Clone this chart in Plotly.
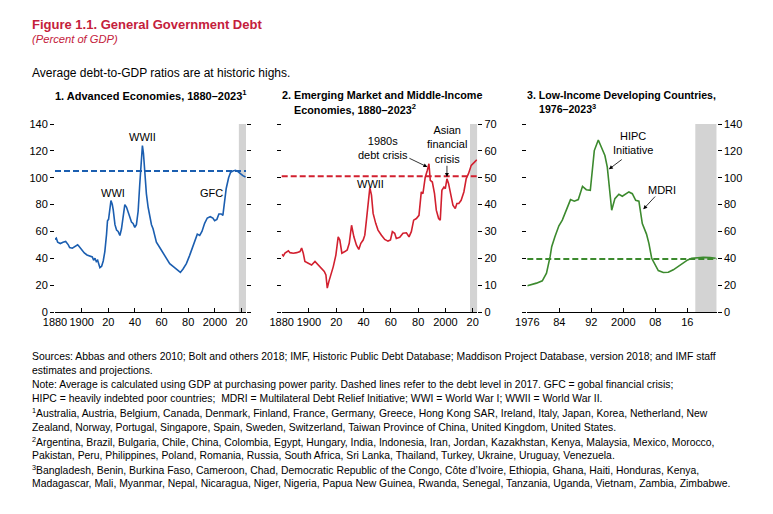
import plotly.graph_objects as go

FONT = "Liberation Sans, Arial, sans-serif"
W, H = 773, 514
OFF = 8  # the page body adds an 8px margin around the figure

# ---- data ----
ae_years = [1880, 1881, 1882, 1884, 1886, 1888, 1890, 1891, 1893, 1895, 1897, 1898,
            1900, 1902, 1904, 1906, 1908, 1909, 1910, 1911, 1912, 1913.7, 1915, 1916.2,
            1917.4, 1918.7, 1919.4, 1920.2, 1921.2, 1922, 1923, 1923.7, 1925, 1926.2,
            1927.4, 1928.7, 1929.9, 1931.2, 1932.4, 1933.7, 1934.9, 1936.2, 1937.4,
            1938.6, 1939.9, 1941.1, 1942.4, 1943.6, 1945.1, 1945.6, 1946.4, 1947.4,
            1948.6, 1949.9, 1951.1, 1952.4, 1953.6, 1954.9, 1956.1, 1958.6, 1961.1,
            1963.6, 1966.1, 1968.6, 1971.1, 1972.8, 1974.1, 1976.1, 1978.6, 1981,
            1983.6, 1985.6, 1986.8, 1988.6, 1990.3, 1992.3, 1994.3, 1996.5, 1998.5,
            1999.8, 2001.5, 2003, 2004.8, 2006, 2007.3, 2008.5, 2010.3, 2011.8, 2013.5,
            2015.5, 2017.3, 2019, 2021, 2023]
ae_debt = [54, 55, 52, 51, 52, 52.5, 50, 48, 47.5, 49, 50, 49,
           46, 44, 42.5, 42, 41, 38.5, 40, 37.5, 38.5, 33, 34, 38,
           45, 58, 68, 69, 80, 83, 80, 76, 65, 61,
           60, 57, 62, 73, 80, 78, 74, 70, 67,
           66, 63, 65, 75, 95, 118, 124, 118, 100,
           88, 78, 70, 65, 62, 56, 52, 48, 44,
           40, 36, 34, 32, 31, 29.5, 32, 36, 42,
           49, 55, 58, 57, 60, 66, 70, 71, 70,
           68, 69, 73, 73, 72, 82, 92, 100, 104, 105,
           105.5, 104.5, 103, 101.5, 100.5]

em_years = [1880, 1881.2, 1882.4, 1883.7, 1884.9, 1886.1, 1888.5, 1891, 1893.4, 1894.6,
            1895.8, 1897, 1899.5, 1901.9, 1904.4, 1906.8, 1909.2, 1911.2, 1912.4, 1913.4,
            1914.6, 1915.8, 1917.8, 1919.7, 1921.4, 1922.6, 1924.1, 1926.3, 1928, 1929.5,
            1931.2, 1932.9, 1934.8, 1936.5, 1938, 1939.7, 1940.9, 1942.1, 1943.3, 1944.6,
            1945.8, 1947, 1948.9, 1950.6, 1953.1, 1955.5, 1957.9, 1959.7, 1961.1, 1962.8,
            1964, 1966.5, 1968.9, 1971.4, 1973.3, 1975, 1976.7, 1978.7, 1980.6, 1982.3,
            1983.5, 1985.2, 1986.7, 1987.9, 1988.9, 1990.4, 1992, 1993.3, 1995, 1996.2,
            1997.4, 1998.9, 1999.9, 2001.1, 2002.3, 2003.8, 2005.5, 2007.2, 2008.4, 2009.8,
            2011.5, 2013.5, 2015.2, 2016.9, 2018.9, 2021.3, 2023]
em_debt = [21.5, 20.9, 21.9, 22.5, 22.8, 22.1, 21.9, 22.1, 22.5, 23.8,
           21.9, 18.8, 18.1, 17.5, 18.8, 17.5, 16.3, 15.1, 13.8, 8.9,
           11.4, 13.2, 16.9, 21.2, 28, 26.8, 21.9, 22.5, 23.1, 25.6,
           32.3, 28, 24.9, 23.3, 25.6, 26.8, 28.6, 34.2, 41.6, 46.3,
           43.5, 36.7, 33, 30.5, 28.6, 27, 26.4, 26.8, 29.9, 29.3,
           27.4, 27.8, 29.3, 29.5, 28, 29.9, 34.2, 34.8, 36, 44.7,
           44.1, 50.2, 52.7, 55.2, 49, 48.4, 44.1, 37.9, 34.8, 34.2,
           45.3, 46.5, 45.9, 49.6, 47.8, 43.5, 39.8, 38.5, 40.4, 40.4,
           41.6, 44.7, 49.6, 51.5, 54.6, 55.8, 56.7]

lidc_years = [1976, 1977.1, 1978.3, 1979.75, 1980.8, 1981.7, 1982.1, 1982.9, 1983.9, 1984.75,
              1985.8, 1986.8, 1987.75, 1988.75, 1989.8, 1990.75, 1991.75, 1992.75, 1993.75,
              1994.6, 1995.4, 1996, 1996.5, 1997.1, 1997.9, 1998.9, 1999.75, 2000.6, 2001.4,
              2002.25, 2003.1, 2003.9, 2004.75, 2005.8, 2006.4, 2007.1, 2007.9, 2008.75, 2010,
              2011.25, 2012.5, 2013.75, 2015, 2016.1, 2017.1, 2018.3, 2020, 2021.7, 2023.1]
lidc_debt = [19.5, 20.2, 21.5, 23.2, 28.9, 41.2, 48.6, 56, 64.2, 68.4,
             75.8, 83.7, 82.5, 83.7, 93.6, 91.1, 90.6, 120.2, 128.1,
             122.7, 116.5, 107.9, 93.1, 75.8, 84.4, 87.7, 86.2, 87.7, 89.4,
             88.1, 83.2, 82.5, 65.9, 58, 51.1, 40, 35.1, 30.9, 29.4,
             29.6, 31.4, 33.8, 36.8, 38.8, 40, 40.5, 40.7, 40.5, 40]

# debt level in 2017 (dashed lines)
ae_2017, em_2017, lidc_2017 = 105, 50.5, 39.5
proj_start, proj_end = 2018, 2023

ae_ticks = [1880, 1900, 1920, 1940, 1960, 1980, 2000, 2020]
ae_ticktext = ["1880", "1900", "20", "40", "60", "80", "2000", "20"]
lidc_ticks = [1976, 1984, 1992, 2000, 2008, 2016]
lidc_ticktext = ["1976", "84", "92", "2000", "08", "16"]

footnotes = [
    "Sources: Abbas and others 2010; Bolt and others 2018; IMF, Historic Public Debt Database; Maddison Project Database, version 2018; and IMF staff",
    "estimates and projections.",
    "Note: Average is calculated using GDP at purchasing power parity. Dashed lines refer to the debt level in 2017. GFC = gobal financial crisis;",
    "HIPC = heavily indebted poor countries;  MDRI = Multilateral Debt Relief Initiative; WWI = World War I; WWII = World War II.",
    "<sup>1</sup>Australia, Austria, Belgium, Canada, Denmark, Finland, France, Germany, Greece, Hong Kong SAR, Ireland, Italy, Japan, Korea, Netherland, New",
    "Zealand, Norway, Portugal, Singapore, Spain, Sweden, Switzerland, Taiwan Province of China, United Kingdom, United States.",
    "<sup>2</sup>Argentina, Brazil, Bulgaria, Chile, China, Colombia, Egypt, Hungary, India, Indonesia, Iran, Jordan, Kazakhstan, Kenya, Malaysia, Mexico, Morocco,",
    "Pakistan, Peru, Philippines, Poland, Romania, Russia, South Africa, Sri Lanka, Thailand, Turkey, Ukraine, Uruguay, Venezuela.",
    "<sup>3</sup>Bangladesh, Benin, Burkina Faso, Cameroon, Chad, Democratic Republic of the Congo, Côte d’Ivoire, Ethiopia, Ghana, Haiti, Honduras, Kenya,",
    "Madagascar, Mali, Myanmar, Nepal, Nicaragua, Niger, Nigeria, Papua New Guinea, Rwanda, Senegal, Tanzania, Uganda, Vietnam, Zambia, Zimbabwe.",
]

BLUE, RED, GREEN = "#1b5eb0", "#d2202f", "#3c8a2e"
TITLE_RED = "#c4203b"
GREY = "#d3d3d3"


# screen pixel -> paper fraction
def px_x(p):
    return (p - OFF) / W


def px_y(p):
    return 1 - (p - OFF) / H


top, bottom = 124, 312
ydom = [px_y(bottom), px_y(top)]
xdoms = [[px_x(55), px_x(246)], [px_x(281.7), px_x(477.3)], [px_x(527.3), px_x(716.7)]]

fig = go.Figure()

fig.add_trace(go.Scatter(x=ae_years, y=ae_debt, mode="lines",
                         line=dict(color=BLUE, width=1.6), xaxis="x", yaxis="y"))
fig.add_trace(go.Scatter(x=em_years, y=em_debt, mode="lines",
                         line=dict(color=RED, width=1.6), xaxis="x2", yaxis="y2"))
fig.add_trace(go.Scatter(x=lidc_years, y=lidc_debt, mode="lines",
                         line=dict(color=GREEN, width=1.6), xaxis="x3", yaxis="y3"))

# projection shading + 2017 dashed levels
shapes = []
for xr, yr, ymax, lvl, col in [("x", "y", 140, ae_2017, BLUE),
                               ("x2", "y2", 70, em_2017, RED),
                               ("x3", "y3", 140, lidc_2017, GREEN)]:
    shapes.append(dict(type="rect", xref=xr, yref=yr, x0=proj_start, x1=proj_end + 0.35,
                       y0=0, y1=ymax, fillcolor=GREY, line_width=0, layer="below"))
    shapes.append(dict(type="line", xref=xr + " domain", yref=yr, x0=0, x1=1, y0=lvl, y1=lvl,
                       line=dict(color=col, width=2, dash="6px,3px")))

tickfont = dict(family=FONT, size=11, color="black")
xcommon = dict(showgrid=False, zeroline=False, showline=True, linecolor="black", linewidth=1,
               ticks="inside", ticklen=4, tickcolor="black", tickfont=tickfont,
               tickangle=0, automargin=False)
ycommon = dict(showgrid=False, zeroline=False, showline=False, ticks="outside", ticklen=4,
               tickcolor="black", tickfont=tickfont, domain=ydom, automargin=False)

fig.update_layout(
    width=W, height=H, margin=dict(l=0, r=0, t=0, b=0, autoexpand=False),
    paper_bgcolor="white", plot_bgcolor="white", showlegend=False,
    font=dict(family=FONT, size=11, color="black"),
    shapes=shapes,
    xaxis=dict(xcommon, domain=xdoms[0], range=[1880, 2023.35], tickvals=ae_ticks,
               ticktext=ae_ticktext, anchor="y"),
    xaxis2=dict(xcommon, domain=xdoms[1], range=[1880, 2023.35], tickvals=ae_ticks,
                ticktext=ae_ticktext, anchor="y2"),
    xaxis3=dict(xcommon, domain=xdoms[2], range=[1976, 2023.35], tickvals=lidc_ticks,
                ticktext=lidc_ticktext, anchor="y3"),
    yaxis=dict(ycommon, range=[0, 140], dtick=20, anchor="x", side="left"),
    yaxis2=dict(ycommon, range=[0, 70], dtick=10, anchor="x2", side="right"),
    yaxis3=dict(ycommon, range=[0, 140], dtick=20, anchor="x3", side="right"),
    # mirrored tick marks on the opposite side
    yaxis4=dict(ycommon, range=[0, 140], dtick=20, anchor="x", side="right",
                overlaying="y", showticklabels=False),
    yaxis5=dict(ycommon, range=[0, 70], dtick=10, anchor="x2", side="left",
                overlaying="y2", showticklabels=False),
    yaxis6=dict(ycommon, range=[0, 140], dtick=20, anchor="x3", side="left",
                overlaying="y3", showticklabels=False),
)
# dummy traces so the mirror axes get drawn
for ya, xa in [("y4", "x"), ("y5", "x2"), ("y6", "x3")]:
    fig.add_trace(go.Scatter(x=[None], y=[None], xaxis=xa, yaxis=ya, hoverinfo="skip"))

ann = []


def text(x, y, s, size=11, xref="paper", yref="paper", **kw):
    d = dict(x=x, y=y, xref=xref, yref=yref, text=s, showarrow=False,
             font=dict(family=FONT, size=size, color=kw.pop("color", "black")))
    d.update(kw)
    ann.append(d)


# headings
text(px_x(30), px_y(24), "<b>Figure 1.1. General Government Debt</b>", size=13,
     color=TITLE_RED, xanchor="left", yanchor="middle")
text(px_x(30), px_y(39), "<i>(Percent of GDP)</i>", size=11.2, color=TITLE_RED,
     xanchor="left", yanchor="middle")
text(px_x(30), px_y(73), "Average debt-to-GDP ratios are at historic highs.", size=12,
     xanchor="left", yanchor="middle")
text(px_x(53), px_y(95), "<b>1. Advanced Economies, 1880–2023<sup>1</sup></b>", size=11,
     xanchor="left", yanchor="middle")
text(px_x(280), px_y(95), "<b>2. Emerging Market and Middle-Income</b>",
     size=10.8, xanchor="left", yanchor="middle")
text(px_x(292), px_y(109), "<b>Economies, 1880–2023<sup>2</sup></b>",
     size=10.8, xanchor="left", yanchor="middle")
text(px_x(525), px_y(95), "<b>3. Low-Income Developing Countries,</b>",
     size=10.6, xanchor="left", yanchor="middle")
text(px_x(537), px_y(109), "<b>1976–2023<sup>3</sup></b>",
     size=10.6, xanchor="left", yanchor="middle")

# in-chart labels
text(1923.4, 88.6, "WWI", xref="x", yref="y")
text(1945.9, 130.5, "WWII", xref="x", yref="y")
text(1997.5, 88.6, "GFC", xref="x", yref="y")
text(1945.3, 47.8, "WWII", xref="x2", yref="y2")
text(1954, 61, "1980s<br>debt crisis", xref="x2", yref="y2")
text(2001, 62.5, "Asian<br>financial<br>crisis", xref="x2", yref="y2")
text(2002.4, 126, "HIPC<br>Initiative", xref="x3", yref="y3")
text(2009.7, 90.8, "MDRI", xref="x3", yref="y3")

# arrows
for xr, yr, tail, tip in [("x2", "y2", (1972.5, 57.5), (1986.8, 54)),
                          ("x2", "y2", (2001.1, 55), (2001.1, 50.3)),
                          ("x3", "y3", (2000, 114.4), (1996.4, 106.3)),
                          ("x3", "y3", (2008.3, 87.1), (2005, 76.5))]:
    ann.append(dict(x=tip[0], y=tip[1], ax=tail[0], ay=tail[1], xref=xr, yref=yr,
                    axref=xr, ayref=yr, text="", showarrow=True, arrowhead=2,
                    arrowsize=1, arrowwidth=0.8, arrowcolor="black"))

# footnotes
for i, line in enumerate(footnotes):
    text(px_x(30), px_y(356 + i * 14.2), line, size=10.4, xanchor="left", yanchor="middle")

fig.update_layout(annotations=ann)

fig.write_html("out.html")
